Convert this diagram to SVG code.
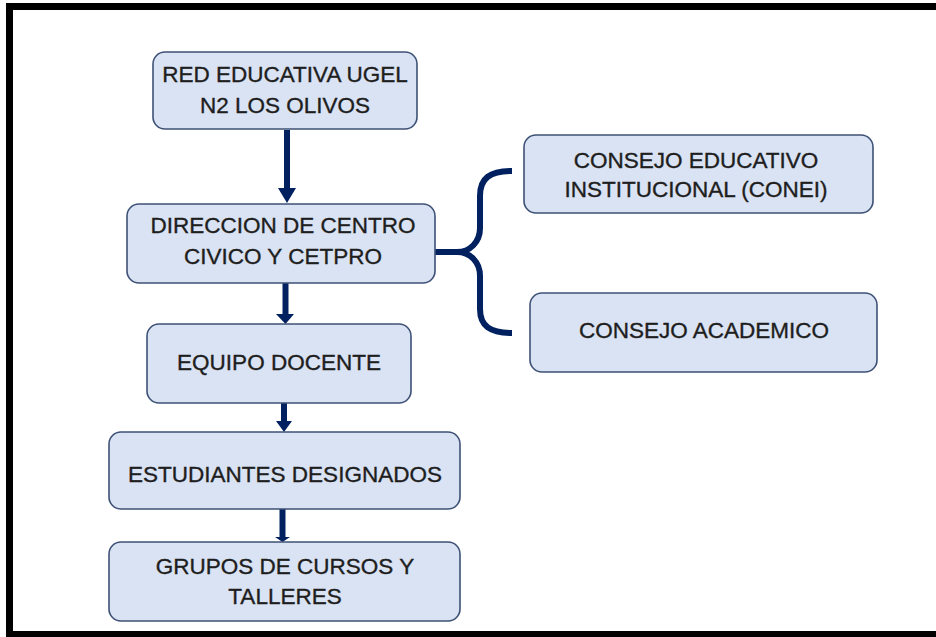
<svg xmlns="http://www.w3.org/2000/svg" width="936" height="637" viewBox="0 0 936 637">
<style>
.box{fill:#dae3f3;stroke:#3e5176;stroke-width:1.6}
.t{font-family:"Liberation Sans",Arial,sans-serif;font-size:22.5px;fill:#1e1e1e;stroke:#1e1e1e;stroke-width:0.35;text-anchor:middle}
.con{stroke:#002060;stroke-width:6;fill:none}
.head{fill:#002060}
</style>
<rect width="936" height="637" fill="#ffffff"/>
<rect x="9.5" y="6.5" width="940" height="628" fill="none" stroke="#000" stroke-width="7"/>
<g id="connectors">
<line class="con" x1="287" y1="130" x2="287" y2="190"/>
<polygon class="head" points="278,188 296,188 287,203"/>
<line class="con" x1="285.5" y1="283" x2="285.5" y2="316"/>
<polygon class="head" points="276,314 294,314 285.5,324"/>
<line class="con" x1="284" y1="403" x2="284" y2="423"/>
<polygon class="head" points="276,421 292,421 284,432"/>
<line class="con" x1="282.5" y1="509" x2="282.5" y2="540"/>
<polygon class="head" points="275,537 290,537 282.5,542"/>
<path class="con" d="M418,252 H457"/>
<path class="con" d="M512,171 C490,171 480,178 480,196 V228 C480,242 470,252 457,252 C470,252 480,262 480,276 V309 C480,326 490,333 512,333"/>
</g>
<g id="n1">
<rect class="box" x="153" y="52" width="264" height="77" rx="12"/>
<text class="t" x="285" y="82">RED EDUCATIVA UGEL</text>
<text class="t" x="285" y="113">N2 LOS OLIVOS</text>
</g>
<g id="n2">
<rect class="box" x="127" y="204" width="308" height="79" rx="12"/>
<text class="t" x="283" y="233">DIRECCION DE CENTRO</text>
<text class="t" x="283" y="264">CIVICO Y CETPRO</text>
</g>
<g id="n3">
<rect class="box" x="524" y="135" width="349" height="78" rx="12"/>
<text class="t" x="696" y="168">CONSEJO EDUCATIVO</text>
<text class="t" x="696" y="197">INSTITUCIONAL (CONEI)</text>
</g>
<g id="n4">
<rect class="box" x="530" y="293" width="347" height="79" rx="12"/>
<text class="t" x="704" y="338">CONSEJO ACADEMICO</text>
</g>
<g id="n5">
<rect class="box" x="147" y="324" width="264" height="79" rx="12"/>
<text class="t" x="279" y="370">EQUIPO DOCENTE</text>
</g>
<g id="n6">
<rect class="box" x="109" y="432" width="351" height="77" rx="12"/>
<text class="t" x="285" y="482">ESTUDIANTES DESIGNADOS</text>
</g>
<g id="n7">
<rect class="box" x="109" y="542" width="351" height="79" rx="12"/>
<text class="t" x="285" y="574">GRUPOS DE CURSOS Y</text>
<text class="t" x="285" y="604">TALLERES</text>
</g>
</svg>
